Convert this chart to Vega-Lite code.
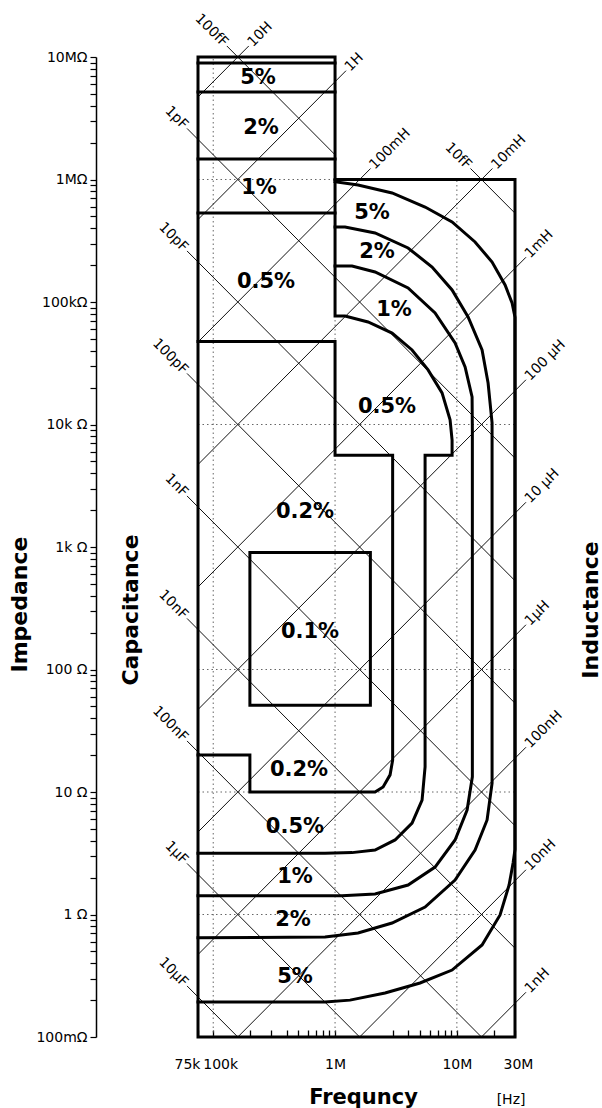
{
"$schema": "https://vega.github.io/schema/vega-lite/v6.json",
"width": 317, "height": 980,
"autosize": {"type": "none"},
"padding": {"left": 198, "top": 57, "right": 87, "bottom": 71},
"background": "white",
"config": {"view": {"stroke": null}, "font": "DejaVu Sans"},
"datasets": {
"regions": [
{"id":"frame","o":1,"f":75000,"z":0.1},{"id":"frame","o":2,"f":75000,"z":10000000},{"id":"frame","o":3,"f":1000000,"z":10000000},{"id":"frame","o":4,"f":1000000,"z":1000000},{"id":"frame","o":5,"f":30000000,"z":1000000},{"id":"frame","o":6,"f":30000000,"z":0.1},{"id":"frame","o":7,"f":75000,"z":0.1},
{"id":"t2","o":1,"f":75000,"z":8930000},{"id":"t2","o":2,"f":1000000,"z":8930000},
{"id":"b52","o":1,"f":75000,"z":5180000},{"id":"b52","o":2,"f":1000000,"z":5180000},
{"id":"b21","o":1,"f":75000,"z":1470000},{"id":"b21","o":2,"f":1000000,"z":1470000},
{"id":"b105","o":1,"f":75000,"z":533000},{"id":"b105","o":2,"f":1000000,"z":533000},
{"id":"p5","o":1,"f":1000000,"z":960000},{"id":"p5","o":2,"f":1545000,"z":902000},{"id":"p5","o":3,"f":2938000,"z":776000},{"id":"p5","o":4,"f":5483000,"z":596000},{"id":"p5","o":5,"f":9134000,"z":450000},{"id":"p5","o":6,"f":14100000,"z":309000},{"id":"p5","o":7,"f":19450000,"z":212000},{"id":"p5","o":8,"f":24870000,"z":137600},{"id":"p5","o":9,"f":28390000,"z":98100},{"id":"p5","o":10,"f":30000000,"z":75000},{"id":"p5","o":11,"f":30000000,"z":3.4},{"id":"p5","o":12,"f":28930000,"z":2.63},{"id":"p5","o":13,"f":26830000,"z":1.74},{"id":"p5","o":14,"f":22620000,"z":0.991},{"id":"p5","o":15,"f":16100000,"z":0.564},{"id":"p5","o":16,"f":9134000,"z":0.352},{"id":"p5","o":17,"f":4986000,"z":0.276},{"id":"p5","o":18,"f":2573000,"z":0.229},{"id":"p5","o":19,"f":1327000,"z":0.2},{"id":"p5","o":20,"f":827700,"z":0.193},{"id":"p5","o":21,"f":75000,"z":0.193},
{"id":"p2","o":1,"f":1000000,"z":409000},{"id":"p2","o":2,"f":1208000,"z":409000},{"id":"p2","o":3,"f":2130000,"z":366000},{"id":"p2","o":4,"f":3975000,"z":276000},{"id":"p2","o":5,"f":6259000,"z":193100},{"id":"p2","o":6,"f":9134000,"z":125300},{"id":"p2","o":7,"f":12360000,"z":75400},{"id":"p2","o":8,"f":16100000,"z":40600},{"id":"p2","o":9,"f":18040000,"z":21800},{"id":"p2","o":10,"f":19450000,"z":10300},{"id":"p2","o":11,"f":19450000,"z":11.8},{"id":"p2","o":12,"f":17700000,"z":5.91},{"id":"p2","o":13,"f":14100000,"z":3.36},{"id":"p2","o":14,"f":9666000,"z":1.91},{"id":"p2","o":15,"f":5483000,"z":1.15},{"id":"p2","o":16,"f":2938000,"z":0.852},{"id":"p2","o":17,"f":1545000,"z":0.706},{"id":"p2","o":18,"f":827700,"z":0.655},{"id":"p2","o":19,"f":75000,"z":0.645},
{"id":"p1","o":1,"f":1000000,"z":196800},{"id":"p1","o":2,"f":1379000,"z":196800},{"id":"p1","o":3,"f":2130000,"z":175700},{"id":"p1","o":4,"f":3975000,"z":130100},{"id":"p1","o":5,"f":6622000,"z":81300},{"id":"p1","o":6,"f":9666000,"z":46300},{"id":"p1","o":7,"f":11680000,"z":29500},{"id":"p1","o":8,"f":13330000,"z":16800},{"id":"p1","o":9,"f":13400000,"z":9000},{"id":"p1","o":10,"f":13400000,"z":13.3},{"id":"p1","o":11,"f":12130000,"z":7.13},{"id":"p1","o":12,"f":9666000,"z":4.06},{"id":"p1","o":13,"f":6622000,"z":2.44},{"id":"p1","o":14,"f":3975000,"z":1.74},{"id":"p1","o":15,"f":2130000,"z":1.47},{"id":"p1","o":16,"f":1141000,"z":1.42},{"id":"p1","o":17,"f":75000,"z":1.42},
{"id":"p05","o":1,"f":1000000,"z":1000000},{"id":"p05","o":2,"f":1000000,"z":76900},{"id":"p05","o":3,"f":1208000,"z":76900},{"id":"p05","o":4,"f":1866000,"z":68700},{"id":"p05","o":5,"f":2938000,"z":55800},{"id":"p05","o":6,"f":4287000,"z":40600},{"id":"p05","o":7,"f":5801000,"z":27900},{"id":"p05","o":8,"f":7557000,"z":18100},{"id":"p05","o":9,"f":8795000,"z":10900},{"id":"p05","o":10,"f":9134000,"z":7470},{"id":"p05","o":11,"f":9134000,"z":5600},{"id":"p05","o":12,"f":5483000,"z":5600},{"id":"p05","o":13,"f":5483000,"z":16.0},{"id":"p05","o":14,"f":5180000,"z":8.6},{"id":"p05","o":15,"f":4287000,"z":5.58},{"id":"p05","o":16,"f":3109000,"z":4.06},{"id":"p05","o":17,"f":2130000,"z":3.36},{"id":"p05","o":18,"f":1379000,"z":3.2},{"id":"p05","o":19,"f":827700,"z":3.16},{"id":"p05","o":20,"f":75000,"z":3.16},
{"id":"p02","o":1,"f":75000,"z":47500},{"id":"p02","o":2,"f":1000000,"z":47500},{"id":"p02","o":3,"f":1000000,"z":5600},{"id":"p02","o":4,"f":2970000,"z":5600},{"id":"p02","o":5,"f":2970000,"z":18.2},{"id":"p02","o":6,"f":2830000,"z":13.8},{"id":"p02","o":7,"f":2480000,"z":11.0},{"id":"p02","o":8,"f":2130000,"z":10},{"id":"p02","o":9,"f":200000,"z":10},{"id":"p02","o":10,"f":200000,"z":20},{"id":"p02","o":11,"f":75000,"z":20},
{"id":"p01","o":1,"f":200000,"z":900},{"id":"p01","o":2,"f":1950000,"z":900},{"id":"p01","o":3,"f":1950000,"z":51},{"id":"p01","o":4,"f":200000,"z":51},{"id":"p01","o":5,"f":200000,"z":900}
],
"diag": [
{"id":"c10f","o":1,"f":12936000,"z":1230300},{"id":"c10f","o":2,"f":30000000,"z":530500},
{"id":"c100f","o":1,"f":129400,"z":12303000},{"id":"c100f","o":2,"f":1000000,"z":1591500},
{"id":"c1p","o":1,"f":60960,"z":2611000},{"id":"c1p","o":2,"f":30000000,"z":5305},
{"id":"c10p","o":1,"f":60960,"z":261100},{"id":"c10p","o":2,"f":30000000,"z":530.5},
{"id":"c100p","o":1,"f":60960,"z":26110},{"id":"c100p","o":2,"f":30000000,"z":53.05},
{"id":"c1n","o":1,"f":60960,"z":2611},{"id":"c1n","o":2,"f":30000000,"z":5.305},
{"id":"c10n","o":1,"f":60960,"z":261.1},{"id":"c10n","o":2,"f":30000000,"z":0.5305},
{"id":"c100n","o":1,"f":60960,"z":26.11},{"id":"c100n","o":2,"f":15915000,"z":0.1},
{"id":"c1u","o":1,"f":60960,"z":2.611},{"id":"c1u","o":2,"f":1591500,"z":0.1},
{"id":"c10u","o":1,"f":60960,"z":0.2611},{"id":"c10u","o":2,"f":159150,"z":0.1},
{"id":"l10H","o":1,"f":75000,"z":4712000},{"id":"l10H","o":2,"f":195800,"z":12303000},
{"id":"l1H","o":1,"f":75000,"z":471200},{"id":"l1H","o":2,"f":1230300,"z":7730000},
{"id":"l100m","o":1,"f":75000,"z":47120},{"id":"l100m","o":2,"f":1958000,"z":1230300},
{"id":"l10m","o":1,"f":75000,"z":4712},{"id":"l10m","o":2,"f":19580000,"z":1230300},
{"id":"l1m","o":1,"f":75000,"z":471.2},{"id":"l1m","o":2,"f":36910000,"z":231900},
{"id":"l100u","o":1,"f":75000,"z":47.12},{"id":"l100u","o":2,"f":36910000,"z":23190},
{"id":"l10u","o":1,"f":75000,"z":4.712},{"id":"l10u","o":2,"f":36910000,"z":2319},
{"id":"l1u","o":1,"f":75000,"z":0.4712},{"id":"l1u","o":2,"f":36910000,"z":231.9},
{"id":"l100n","o":1,"f":159150,"z":0.1},{"id":"l100n","o":2,"f":36910000,"z":23.19},
{"id":"l10n","o":1,"f":1591500,"z":0.1},{"id":"l10n","o":2,"f":36910000,"z":2.319},
{"id":"l1n","o":1,"f":15915000,"z":0.1},{"id":"l1n","o":2,"f":36910000,"z":0.2319}
],
"clabels": [
{"t":"10fF","f":12936000,"z":1230300},{"t":"100fF","f":129400,"z":12303000},{"t":"1pF","f":60960,"z":2611000},{"t":"10pF","f":60960,"z":261100},{"t":"100pF","f":60960,"z":26110},{"t":"1nF","f":60960,"z":2611},{"t":"10nF","f":60960,"z":261.1},{"t":"100nF","f":60960,"z":26.11},{"t":"1µF","f":60960,"z":2.611},{"t":"10µF","f":60960,"z":0.2611}
],
"llabels": [
{"t":"10H","f":195800,"z":12303000},{"t":"1H","f":1230300,"z":7730000},{"t":"100mH","f":1958000,"z":1230300},{"t":"10mH","f":19580000,"z":1230300},{"t":"1mH","f":36910000,"z":231900},{"t":"100 µH","f":36910000,"z":23190},{"t":"10 µH","f":36910000,"z":2319},{"t":"1µH","f":36910000,"z":231.9},{"t":"100nH","f":36910000,"z":23.19},{"t":"10nH","f":36910000,"z":2.319},{"t":"1nH","f":36910000,"z":0.2319}
],
"vgrid": [
{"f":100000,"z":0.1,"z2":10000000},{"f":1000000,"z":0.1,"z2":10000000},{"f":10000000,"z":0.1,"z2":1000000}
],
"hgrid": [
{"z":1000000,"f":75000,"f2":1000000},{"z":10000,"f":75000,"f2":30000000},{"z":100,"f":75000,"f2":30000000},{"z":10,"f":75000,"f2":30000000},{"z":1,"f":75000,"f2":30000000}
],
"pct": [
{"t":"5%","f":233200,"z":6740000},{"t":"2%","f":246900,"z":2633000},{"t":"1%","f":237700,"z":852000},{"t":"0.5%","f":271300,"z":145700},
{"t":"5%","f":2012000,"z":533000},{"t":"2%","f":2212000,"z":256000},{"t":"1%","f":3050000,"z":86000},{"t":"0.5%","f":2672000,"z":13900},
{"t":"0.2%","f":567000,"z":1930},{"t":"0.1%","f":623000,"z":202},{"t":"0.2%","f":506000,"z":15.1},{"t":"0.5%","f":469000,"z":5.18},{"t":"1%","f":469000,"z":2.02},{"t":"2%","f":452000,"z":0.902},{"t":"5%","f":469000,"z":0.309}
],
"vtitles": [
{"t":"Capacitance","f":21100,"z":306},{"t":"Inductance","f":126400000,"z":306}
],
"unit": [
{"t":"[Hz]","f":27850000,"z":0.0306}
]
},
"encoding": {
"x": {"field": "f", "type": "quantitative",
 "scale": {"type": "log", "domain": [75000, 30000000], "nice": false},
 "axis": {
  "offset": -7,
  "values": [75000,100000,200000,300000,400000,500000,600000,700000,800000,900000,1000000,3000000,4000000,5000000,6000000,7000000,8000000,9000000,10000000,20000000,30000000],
  "labelExpr": "datum.value == 75000 ? '75k' : datum.value == 100000 ? '100k' : datum.value == 1000000 ? '1M' : datum.value == 10000000 ? '10M' : datum.value == 30000000 ? '30M' : ''",
  "labelOffset": {"expr": "datum.value == 75000 ? -11 : datum.value == 100000 ? 7 : datum.value == 30000000 ? 3 : 0"},
  "labelOverlap": false, "labelFlush": false,
  "labelFont": "DejaVu Sans", "labelFontSize": 14, "labelColor": "#000", "labelPadding": 20,
  "tickSize": 7, "tickColor": "#000", "tickWidth": 1.3,
  "domain": false, "grid": false,
  "title": "Frequncy", "titleFont": "DejaVu Sans", "titleFontSize": 21, "titleFontWeight": "bold", "titleColor": "#000",
  "titleX": 165, "titleY": 73, "titleAlign": "center", "titleBaseline": "alphabetic"
 }},
"y": {"field": "z", "type": "quantitative",
 "scale": {"type": "log", "domain": [0.1, 10000000], "nice": false},
 "axis": {
  "orient": "left", "offset": 102,
  "values": [0.1,0.2,0.3,0.4,0.5,0.6,0.7,0.8,0.9,1,2,3,4,5,6,7,8,9,10,20,30,40,50,60,70,80,90,100,200,300,400,500,600,700,800,900,1000,2000,3000,4000,5000,6000,7000,8000,9000,10000,20000,30000,40000,50000,60000,70000,80000,90000,100000,200000,300000,400000,500000,600000,700000,800000,900000,1000000,2000000,3000000,4000000,5000000,6000000,7000000,8000000,9000000,10000000],
  "labelExpr": "datum.value == 10000000 ? '10MΩ' : datum.value == 1000000 ? '1MΩ' : datum.value == 100000 ? '100kΩ' : datum.value == 10000 ? '10k Ω' : datum.value == 1000 ? '1k Ω' : datum.value == 100 ? '100 Ω' : datum.value == 10 ? '10 Ω' : datum.value == 1 ? '1 Ω' : datum.value == 0.1 ? '100mΩ' : ''",
  "labelOverlap": false, "labelFlush": false,
  "labelFont": "DejaVu Sans", "labelFontSize": 14, "labelColor": "#000", "labelPadding": 3,
  "tickSize": 6, "tickColor": "#000", "tickWidth": 1.2,
  "domain": true, "domainColor": "#000", "domainWidth": 1.5, "grid": false,
  "title": "Impedance", "titleFont": "DejaVu Sans", "titleFontSize": 22, "titleFontWeight": "bold", "titleColor": "#000",
  "titleAngle": 270, "titleX": -77, "titleY": 547, "titleAlign": "center", "titleBaseline": "middle"
 }}
},
"layer": [
{"data": {"name": "vgrid"}, "mark": {"type": "rule", "color": "#666", "strokeWidth": 1, "strokeDash": [1.5, 3]},
 "encoding": {"y2": {"field": "z2"}}},
{"data": {"name": "hgrid"}, "mark": {"type": "rule", "color": "#666", "strokeWidth": 1, "strokeDash": [1.5, 3]},
 "encoding": {"x2": {"field": "f2"}}},
{"data": {"name": "diag"}, "mark": {"type": "line", "color": "#111", "strokeWidth": 1},
 "encoding": {"detail": {"field": "id"}, "order": {"field": "o"}}},
{"data": {"name": "regions"}, "mark": {"type": "line", "color": "#000", "strokeWidth": 3, "strokeCap": "square", "strokeJoin": "miter"},
 "encoding": {"detail": {"field": "id"}, "order": {"field": "o"}}},
{"data": {"name": "pct"}, "mark": {"type": "text", "font": "DejaVu Sans", "fontWeight": "bold", "fontSize": 21, "color": "#000", "align": "center", "baseline": "middle"},
 "encoding": {"text": {"field": "t"}}},
{"data": {"name": "clabels"}, "mark": {"type": "text", "font": "DejaVu Sans", "fontSize": 14, "color": "#000", "align": "right", "baseline": "middle", "angle": 45, "dx": -2},
 "encoding": {"text": {"field": "t"}}},
{"data": {"name": "llabels"}, "mark": {"type": "text", "font": "DejaVu Sans", "fontSize": 14, "color": "#000", "align": "left", "baseline": "middle", "angle": 315, "dx": 2},
 "encoding": {"text": {"field": "t"}}},
{"data": {"name": "vtitles"}, "mark": {"type": "text", "font": "DejaVu Sans", "fontWeight": "bold", "fontSize": 22, "color": "#000", "align": "center", "baseline": "middle", "angle": 270},
 "encoding": {"text": {"field": "t"}}},
{"data": {"name": "unit"}, "mark": {"type": "text", "font": "DejaVu Sans", "fontSize": 14, "color": "#000", "align": "center", "baseline": "middle"},
 "encoding": {"text": {"field": "t"}}}
]
}
